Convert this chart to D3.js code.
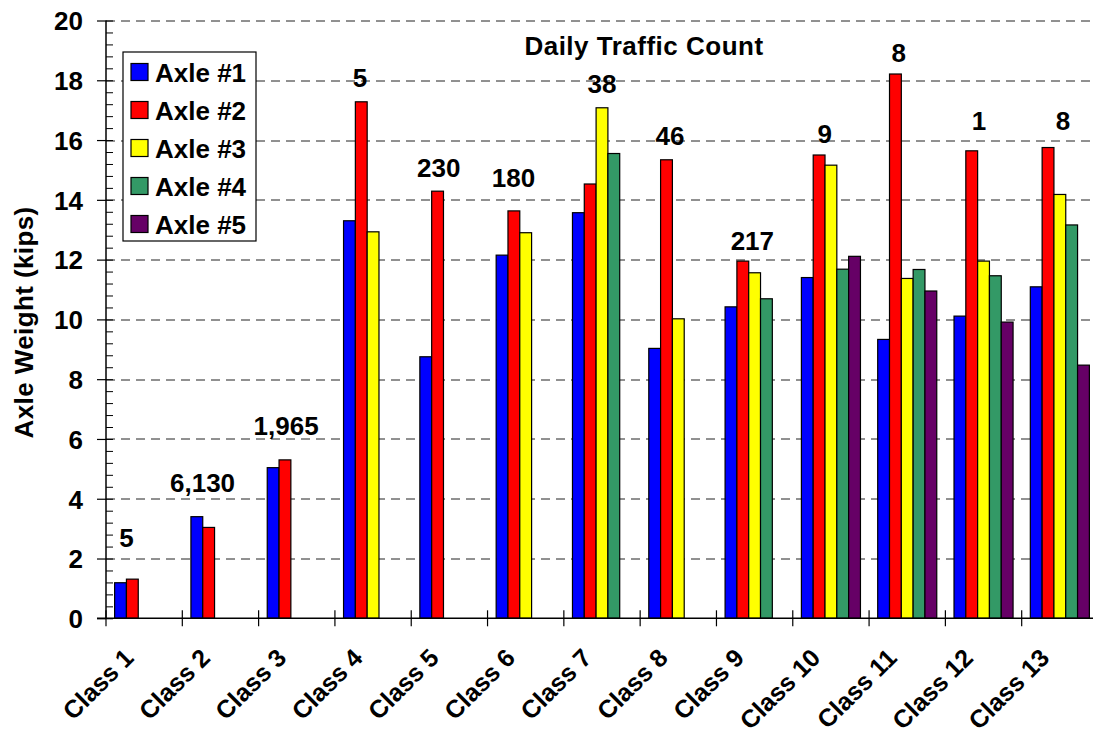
<!DOCTYPE html>
<html>
<head>
<meta charset="utf-8">
<script src="https://cdn.jsdelivr.net/npm/d3@7"></script>
<style>
	body { margin: 0; background: #fff; }
	svg text {
		font-family: "Liberation Sans", Arial, sans-serif;
		font-weight: bold;
		fill: #000;
	}
	.grid line {
		stroke: #222;
		stroke-dasharray: 9,6;
		stroke-width: 1;
	}
	.bar {
		stroke: #000;
		stroke-width: 1.2px;
	}
</style>
</head>
<body>
<div id="container"></div>
<script>
	// chart values
	const classes = ["Class 1", "Class 2", "Class 3", "Class 4", "Class 5", "Class 6", "Class 7",
		"Class 8", "Class 9", "Class 10", "Class 11", "Class 12", "Class 13"];
	const axles = ["Axle #1", "Axle #2", "Axle #3", "Axle #4", "Axle #5"];

	const axle1 = [1.19, 3.40, 5.04, 13.30, 8.75, 12.15, 13.57, 9.03, 10.42, 11.40, 9.33, 10.11, 11.09];
	const axle2 = [1.31, 3.04, 5.30, 17.28, 14.29, 13.63, 14.53, 15.34, 11.95, 15.50, 18.21, 15.64, 15.75];
	const axle3 = [null, null, null, 12.93, null, 12.90, 17.08, 10.02, 11.56, 15.16, 11.37, 11.95, 14.18];
	const axle4 = [null, null, null, null, null, null, 15.55, null, 10.69, 11.68, 11.67, 11.46, 13.16];
	const axle5 = [null, null, null, null, null, null, null, null, null, 12.11, 10.95, 9.91, 8.47];

	// daily traffic count per class, and where each count sits (kips, fraction across the class)
	const dailyCounts = ["5", "6,130", "1,965", "5", "230", "180", "38", "46", "217", "9", "8", "1", "8"];
	const countKips = [2.39, 4.23, 6.13, 17.77, 14.77, 14.42, 17.58, 15.83, 12.32, 15.9, 18.6, 16.33, 16.35];
	const countAcross = [0.27, 0.265, 0.36, 0.33, 0.36, 0.34, 0.50, 0.39, 0.47, 0.42, 0.39, 0.44, 0.54];

	const yTicks = [0, 2, 4, 6, 8, 10, 12, 14, 16, 18, 20];

	const series = [axle1, axle2, axle3, axle4, axle5];
	const colors = ["#0000ff", "#ff0000", "#ffff00", "#339966", "#660066"];

	const W = 1093, H = 738;
	const margin = {top: 20.5, left: 106, right: -5, bottom: 119.7};
	const width = W - margin.left - margin.right;
	const height = H - margin.top - margin.bottom;

	const svg = d3.select("#container").append("svg")
		.attr("width", W)
		.attr("height", H)
		.style("display", "block");

	svg.append("rect").attr("width", W).attr("height", H).attr("fill", "#fff");

	const g = svg.append("g")
		.attr("transform", "translate(" + margin.left + "," + margin.top + ")");

	const x = d3.scaleBand().domain(classes).range([0, width]).padding(0);
	const xa = d3.scaleBand().domain(axles).range([0, x.bandwidth()])
		.paddingInner(0).paddingOuter(0.73);
	const y = d3.scaleLinear().domain([0, 20]).range([height, 0]);

	// dashed grid
	g.append("g")
		.attr("class", "grid")
		.selectAll("line")
		.data(yTicks.filter(d => d > 0))
		.join("line")
			.attr("x1", 0)
			.attr("x2", width)
			.attr("y1", d => Math.round(y(d)) + 0.5)
			.attr("y2", d => Math.round(y(d)) + 0.5);

	// bars
	const rows = classes.map((c, i) => ({c: c, vals: series.map(s => s[i])}));
	g.append("g").selectAll("g")
		.data(rows)
		.join("g")
			.attr("transform", d => "translate(" + x(d.c) + ",0)")
		.selectAll("rect")
		.data(d => d.vals.map((v, k) => ({v: v, k: k})).filter(e => e.v != null))
		.join("rect")
			.attr("class", "bar")
			.attr("x", e => xa(axles[e.k]))
			.attr("width", xa.bandwidth())
			.attr("y", e => y(e.v))
			.attr("height", e => y(0) - y(e.v))
			.attr("fill", e => colors[e.k]);

	// y axis: major ticks outside, minor ticks inside
	const yAxis = g.append("g")
		.call(d3.axisLeft(y).tickValues(yTicks).tickSize(9).tickPadding(14).tickFormat(d3.format("d")));
	yAxis.select(".domain").remove();
	yAxis.selectAll(".tick line").attr("stroke", "#000").attr("stroke-width", 1.2);
	yAxis.selectAll(".tick text")
		.style("font-size", "26px")
		.attr("dy", "0.36em");

	const yMinor = g.append("g")
		.call(d3.axisRight(y).tickValues(d3.range(0, 20.01, 0.4)).tickSize(7).tickFormat(""));
	yMinor.select(".domain").remove();
	yMinor.selectAll(".tick line").attr("stroke", "#000").attr("stroke-width", 1);

	g.append("line")
		.attr("x1", 0).attr("x2", 0)
		.attr("y1", 0).attr("y2", height)
		.attr("stroke", "#000").attr("stroke-width", 1.5);

	// x axis
	g.append("line")
		.attr("x1", -9).attr("x2", width)
		.attr("y1", height).attr("y2", height)
		.attr("stroke", "#000").attr("stroke-width", 1.5);

	g.append("g").selectAll("line")
		.data(classes)
		.join("line")
			.attr("x1", d => x(d)).attr("x2", d => x(d))
			.attr("y1", height - 8).attr("y2", height + 8)
			.attr("stroke", "#000").attr("stroke-width", 1.2);

	g.append("g").selectAll("text")
		.data(classes)
		.join("text")
			.attr("text-anchor", "end")
			.style("font-size", "25px")
			.attr("transform", d => "translate(" + (x(d) + x.bandwidth() / 2 - 9) + "," + (height + 41) + ") rotate(-45)")
			.text(d => d);

	// daily traffic counts
	g.append("g").selectAll("text")
		.data(classes)
		.join("text")
			.attr("text-anchor", "middle")
			.style("font-size", "26px")
			.attr("x", (d, i) => x(d) + countAcross[i] * x.bandwidth())
			.attr("y", (d, i) => y(countKips[i]))
			.text((d, i) => dailyCounts[i]);

	g.append("text")
		.attr("text-anchor", "middle")
		.style("font-size", "26px")
		.style("letter-spacing", "0.5px")
		.attr("x", 538)
		.attr("y", 34.5)
		.text("Daily Traffic Count");

	svg.append("text")
		.attr("text-anchor", "middle")
		.style("font-size", "26px")
		.style("letter-spacing", "0.4px")
		.attr("transform", "translate(33," + (margin.top + height / 2 + 3) + ") rotate(-90)")
		.text("Axle Weight (kips)");

	// legend
	const legend = g.append("g").attr("transform", "translate(17,31.5)");
	legend.append("rect")
		.attr("width", 133).attr("height", 189)
		.attr("fill", "#fff")
		.attr("stroke", "#000").attr("stroke-width", 1.2);

	const item = legend.selectAll("g.item")
		.data(axles)
		.join("g")
			.attr("class", "item")
			.attr("transform", (d, i) => "translate(8," + (11.5 + i * 38) + ")");
	item.append("rect")
		.attr("width", 17).attr("height", 17)
		.attr("fill", (d, i) => colors[i])
		.attr("stroke", "#000").attr("stroke-width", 1.2);
	item.append("text")
		.attr("x", 24)
		.attr("y", 18)
		.style("font-size", "26px")
		.text(d => d);
</script>
</body>
</html>
